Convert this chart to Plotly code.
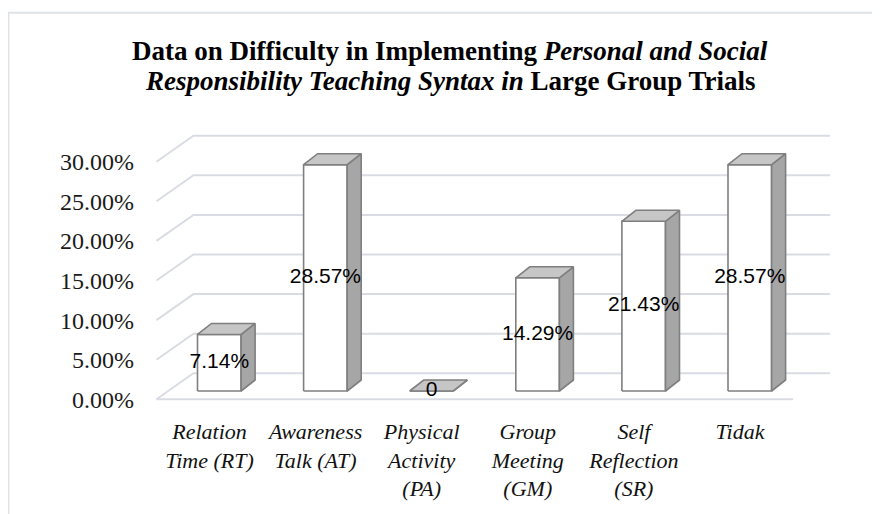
import plotly.graph_objects as go

# ---------------- data ----------------
categories = ["Relation<br>Time (RT)", "Awareness<br>Talk (AT)", "Physical<br>Activity<br>(PA)",
              "Group<br>Meeting<br>(GM)", "Self<br>Reflection<br>(SR)", "Tidak"]
values = [7.14, 28.57, 0.0, 14.29, 21.43, 28.57]
value_labels = ["7.14%", "28.57%", "0", "14.29%", "21.43%", "28.57%"]
y_ticks = [0, 5, 10, 15, 20, 25, 30]
y_tick_labels = ["0.00%", "5.00%", "10.00%", "15.00%", "20.00%", "25.00%", "30.00%"]
title_line1 = "<b>Data on Difficulty in Implementing <i>Personal and Social</i></b>"
title_line2 = "<b><i>Responsibility Teaching Syntax in</i> Large Group Trials</b>"

# ---------------- geometry (page pixels) ----------------
PAGE_OFF = 8                          # default body margin of the html page
W_FIG, H_FIG = 880 - PAGE_OFF, 514 - PAGE_OFF
PX_X0, PX_PER_CAT = 209.5, 106.1      # front-plane pixel of category 0, pixels per category
PX_Y0, PX_PER_PCT = 399.3, 7.92       # front-plane pixel of 0 %, pixels per percent
L, R, T, B = 135, 870, 125, 412       # plot area (page pixels)

x_range = [(L - PX_X0) / PX_PER_CAT, (R - PX_X0) / PX_PER_CAT]
y_range = [(PX_Y0 - B) / PX_PER_PCT, (PX_Y0 - T) / PX_PER_PCT]

WALL_DX, WALL_DY = 37 / PX_PER_CAT, 26 / PX_PER_PCT
BAR_HALF = 21.8 / PX_PER_CAT
BAR_OFF_X, BAR_OFF_Y = 9.8 / PX_PER_CAT, 8.3 / PX_PER_PCT
BAR_DX, BAR_DY = 14 / PX_PER_CAT, 11 / PX_PER_PCT

GRID = "#d9dde3"
EDGE = "#7f7f7f"
n = len(values)

fig = go.Figure()

# gridlines: left wall diagonals + back wall horizontals + front floor edge
gx, gy = [], []
for v in y_ticks:
    gx += [-0.5, -0.5 + WALL_DX, n - 0.5 + WALL_DX, None]
    gy += [v, v + WALL_DY, v + WALL_DY, None]
gx += [-0.5, n - 0.5, None]
gy += [0, 0, None]
fig.add_trace(go.Scatter(x=gx, y=gy, mode="lines", line=dict(color=GRID, width=2),
                         hoverinfo="skip", showlegend=False))

# 3D bars (front, side, top faces)
for i, v in enumerate(values):
    xl = i + BAR_OFF_X - BAR_HALF
    xr = i + BAR_OFF_X + BAR_HALF
    yb = BAR_OFF_Y
    yt = BAR_OFF_Y + v
    faces = [
        ([xl, xr, xr, xl, xl], [yb, yb, yt, yt, yb], "#ffffff"),
        ([xr, xr + BAR_DX, xr + BAR_DX, xr, xr], [yb, yb + BAR_DY, yt + BAR_DY, yt, yb], "#a6a6a6"),
        ([xl, xl + BAR_DX, xr + BAR_DX, xr, xl], [yt, yt + BAR_DY, yt + BAR_DY, yt, yt], "#c6c6c6"),
    ]
    for fx, fy, col in faces:
        fig.add_trace(go.Scatter(x=fx, y=fy, mode="lines", fill="toself", fillcolor=col,
                                 line=dict(color=EDGE, width=1.6), hoverinfo="skip",
                                 showlegend=False))

# data labels
fig.add_trace(go.Scatter(
    x=[i + BAR_OFF_X for i in range(n)],
    y=[BAR_OFF_Y + v / 2 for v in values],
    mode="text", text=value_labels, textposition="middle center",
    textfont=dict(family="Liberation Sans", size=21, color="#000000"),
    cliponaxis=False, hoverinfo="skip", showlegend=False))


def px2paper_x(px):
    return (px - L) / (R - L)


def px2paper_y(py):
    return (B - py) / (B - T)


title_font = dict(family="Liberation Serif", size=27, color="#000000")

fig.update_layout(
    width=W_FIG, height=H_FIG,
    margin=dict(l=L - PAGE_OFF, r=880 - R, t=T - PAGE_OFF, b=514 - B, autoexpand=False),
    paper_bgcolor="white", plot_bgcolor="white",
    xaxis=dict(range=x_range, showgrid=False, zeroline=False, showline=False,
               tickvals=list(range(n)), ticktext=categories, ticks="",
               tickfont=dict(family="Liberation Serif", size=22, style="italic", color="#111111"),
               ticklabelstandoff=4, automargin=False, fixedrange=True),
    yaxis=dict(range=y_range, showgrid=False, zeroline=False, showline=False,
               tickvals=y_ticks, ticktext=y_tick_labels, ticks="",
               tickfont=dict(family="Liberation Serif", size=24, color="#1a1a1a"),
               automargin=False, fixedrange=True),
    annotations=[
        dict(text=title_line1, xref="paper", yref="paper", x=px2paper_x(450), y=px2paper_y(51),
             xanchor="center", yanchor="middle", showarrow=False, font=title_font),
        dict(text=title_line2, xref="paper", yref="paper", x=px2paper_x(450), y=px2paper_y(81),
             xanchor="center", yanchor="middle", showarrow=False, font=title_font),
    ],
    shapes=[
        dict(type="line", xref="paper", yref="paper",
             x0=px2paper_x(PAGE_OFF), x1=px2paper_x(880), y0=px2paper_y(12.7), y1=px2paper_y(12.7),
             line=dict(color="#dfe3e8", width=2)),
        dict(type="line", xref="paper", yref="paper",
             x0=px2paper_x(PAGE_OFF + 0.5), x1=px2paper_x(PAGE_OFF + 0.5),
             y0=px2paper_y(12.7), y1=px2paper_y(514),
             line=dict(color="#dfe3e8", width=2)),
    ],
)

fig.write_html("out.html")
